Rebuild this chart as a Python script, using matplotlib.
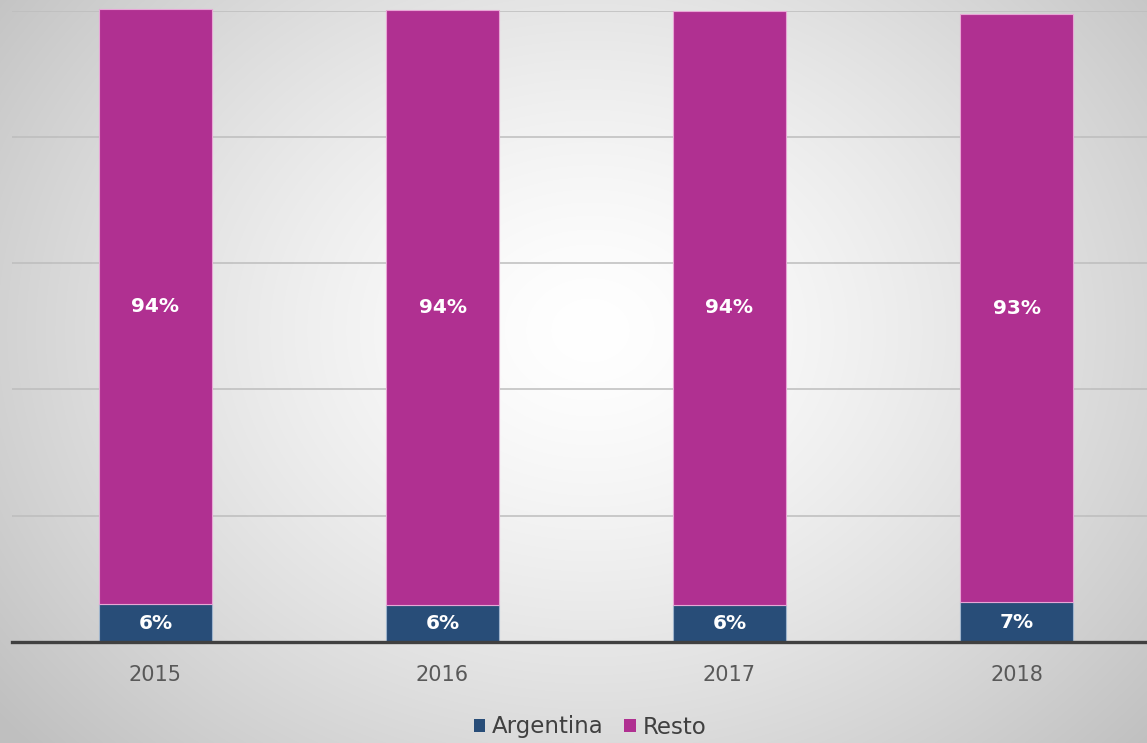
import numpy as np
import matplotlib
matplotlib.use("Agg")
import matplotlib.pyplot as plt
from matplotlib.patches import Patch

years = ["2015", "2016", "2017", "2018"]
argentina = [6.0, 5.9, 5.8, 6.3]
resto = [94.3, 94.2, 94.2, 93.1]
argentina_labels = ["6%", "6%", "6%", "7%"]
resto_labels = ["94%", "94%", "94%", "93%"]

col_arg = "#284D78"
col_resto = "#B03091"

W, H = 1147, 743
fig = plt.figure(figsize=(W / 100, H / 100), dpi=100)

# radial gradient background
bg = fig.add_axes([0, 0, 1, 1], zorder=0)
yy, xx = np.mgrid[0:H, 0:W]
cx, cy = 590, 330
r = np.sqrt(((xx - cx) / 760.0) ** 2 + ((yy - cy) / 620.0) ** 2)
v = 1.0 - 0.25 * np.clip(r, 0, 1) ** 1.4
img = np.dstack([v, v, v])
bg.imshow(img, aspect="auto", extent=[0, 1, 0, 1], origin="upper")
bg.axis("off")

left = 12 / W
bottom = (H - 642) / H
ax = fig.add_axes([left, bottom, 1148 / W, 631.5 / H], zorder=1)
ax.patch.set_alpha(0)

x = np.arange(len(years))
bw = 0.397
ax.bar(x, argentina, bw, color=col_arg, edgecolor="#9fb4cc", linewidth=0.8, zorder=3, clip_on=False)
ax.bar(x, resto, bw, bottom=argentina, color=col_resto, edgecolor="#e8a6d6", linewidth=0.8, zorder=3, clip_on=False)

font = "DejaVu Sans"
for i in range(len(years)):
    ax.text(x[i], argentina[i] / 2, argentina_labels[i], ha="center", va="center",
            color="white", fontsize=14.5, fontweight="bold", family=font, zorder=4)
    ax.text(x[i], argentina[i] + resto[i] / 2, resto_labels[i], ha="center", va="center",
            color="white", fontsize=14.5, fontweight="bold", family=font, zorder=4)

ax.set_xlim(-0.5, 3.5)
ax.set_ylim(0, 100)
ax.set_yticks([0, 20, 40, 60, 80, 100])
ax.yaxis.grid(True, color="#bdbdbd", linewidth=1.1, zorder=0)
ax.set_axisbelow(True)
ax.tick_params(axis="y", left=False, labelleft=False)
ax.tick_params(axis="x", bottom=False, pad=13)
ax.set_xticks(x)
ax.set_xticklabels(years, fontsize=15, color="#595959", family=font)
for s in ["top", "right", "left"]:
    ax.spines[s].set_visible(False)
ax.spines["bottom"].set_color("#404040")
ax.spines["bottom"].set_linewidth(2.4)
ax.spines["bottom"].set_zorder(5)

handles = [Patch(facecolor=col_arg, edgecolor="none"), Patch(facecolor=col_resto, edgecolor="none")]
fig.legend(handles, ["Argentina", "Resto"], loc="center", bbox_to_anchor=(590 / W, 1 - 727 / H),
           ncol=2, frameon=False, prop={"family": font, "size": 16.5}, labelcolor="#404040",
           handlelength=0.5, handleheight=0.5, handletextpad=0.3, columnspacing=0.9)

fig.savefig("out.png", dpi=100)
